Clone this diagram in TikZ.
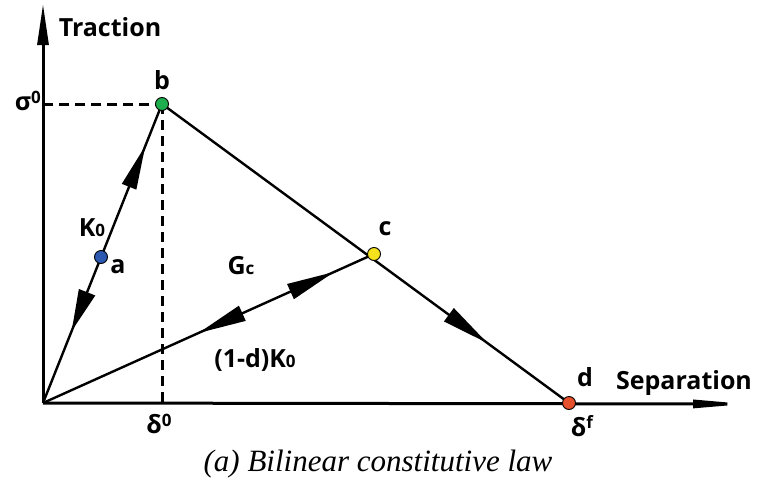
\documentclass[tikz,border=0pt]{standalone}
\usepackage{fontspec}
\setmainfont{Liberation Serif}
\newfontfamily\lab{Open Sans}
\usetikzlibrary{arrows.meta,decorations.markings}
\definecolor{dotblue}{HTML}{2C58B0}
\definecolor{dotgreen}{HTML}{1FAE4E}
\definecolor{dotyellow}{HTML}{F6E21C}
\definecolor{dotred}{HTML}{E6502C}
\tikzset{
  axis/.style={line width=3pt},
  curve/.style={line width=2.4pt},
  dashline/.style={line width=3pt, dash pattern=on 10pt off 6pt},
  dot/.style={circle, draw, line width=0.9pt, inner sep=0pt, minimum size=13pt},
  lbl/.style={font=\lab\bfseries\fontsize{25}{28}\selectfont, inner sep=0pt},
  myhead/.tip={Triangle[length=48pt,width=16pt]},
}
\newcommand{\smallsub}[1]{{\fontsize{17}{19}\selectfont #1}}
\begin{document}
\begin{tikzpicture}[x=1pt,y=-1pt]
\useasboundingbox (0,0) rectangle (759,482);
\coordinate (O) at (43,403);
\coordinate (B) at (162,104);
\coordinate (C) at (374,254);
\coordinate (D) at (569,403);
\coordinate (A) at (101,257);
\coordinate (Ytop) at (43,4);
\coordinate (Xend) at (748,404);
\coordinate (Sy) at (43,104);
\coordinate (Sx) at (162,403);
% axes
\draw[axis, -{Triangle[length=41pt,width=11pt]}] (O) -- (Ytop);
\draw[axis, -{Triangle[length=55pt,width=8pt]}] (O) -- (Xend);
% dashed guides
\draw[dashline] (Sy) -- (B);
\draw[dashline] (B) -- (Sx);
% lines with arrows
\draw[curve, postaction={decorate}, decoration={markings,
  mark=at position 0.86 with {\arrow{Triangle[length=44pt,width=15pt]}},
  mark=at position 0.24 with {\arrowreversed{Triangle[length=42pt,width=17pt]}}}]
  (O) -- (B);
\draw[curve, postaction={decorate}, decoration={markings,
  mark=at position 0.88 with {\arrow{myhead}},
  mark=at position 0.47 with {\arrowreversed{myhead}}}]
  (O) -- (C);
\draw[curve, postaction={decorate}, decoration={markings,
  mark=at position 0.80 with {\arrow{myhead}}}]
  (B) -- (D);
% dots
\node[dot, fill=dotblue] (a) at (A) {};
\node[dot, fill=dotgreen] (b) at (B) {};
\node[dot, fill=dotyellow] (c) at (C) {};
\node[dot, fill=dotred] (d) at (D) {};
% labels
\node[lbl] (tTraction) at (110,27) {Traction};
\node[lbl, anchor=east] (tsig) at (41,101) {σ\raisebox{0.55ex}{\smallsub{0}}};
\node[lbl] (tb) at (162,80) {b};
\node[lbl] (tK) at (92,228) {K\smallsub{0}};
\node[lbl] (ta) at (118,267) {a};
\node[lbl] (tG) at (241,266) {G\smallsub{c}};
\node[lbl] (tc) at (385,229) {c};
\node[lbl] (tdK) at (255,360) {(1-d)K\smallsub{0}};
\node[lbl] (td) at (585,377) {d};
\node[lbl] (tSep) at (684,383) {Separation};
\node[lbl] (td0) at (159,424) {δ\raisebox{0.55ex}{\smallsub{0}}};
\node[lbl] (tdf) at (582,426) {δ\raisebox{0.55ex}{\smallsub{f}}};
\node[font=\itshape\fontsize{31}{34}\selectfont, inner sep=0pt, anchor=base] (cap) at (378,471) {(a) Bilinear constitutive law};
\end{tikzpicture}
\end{document}
